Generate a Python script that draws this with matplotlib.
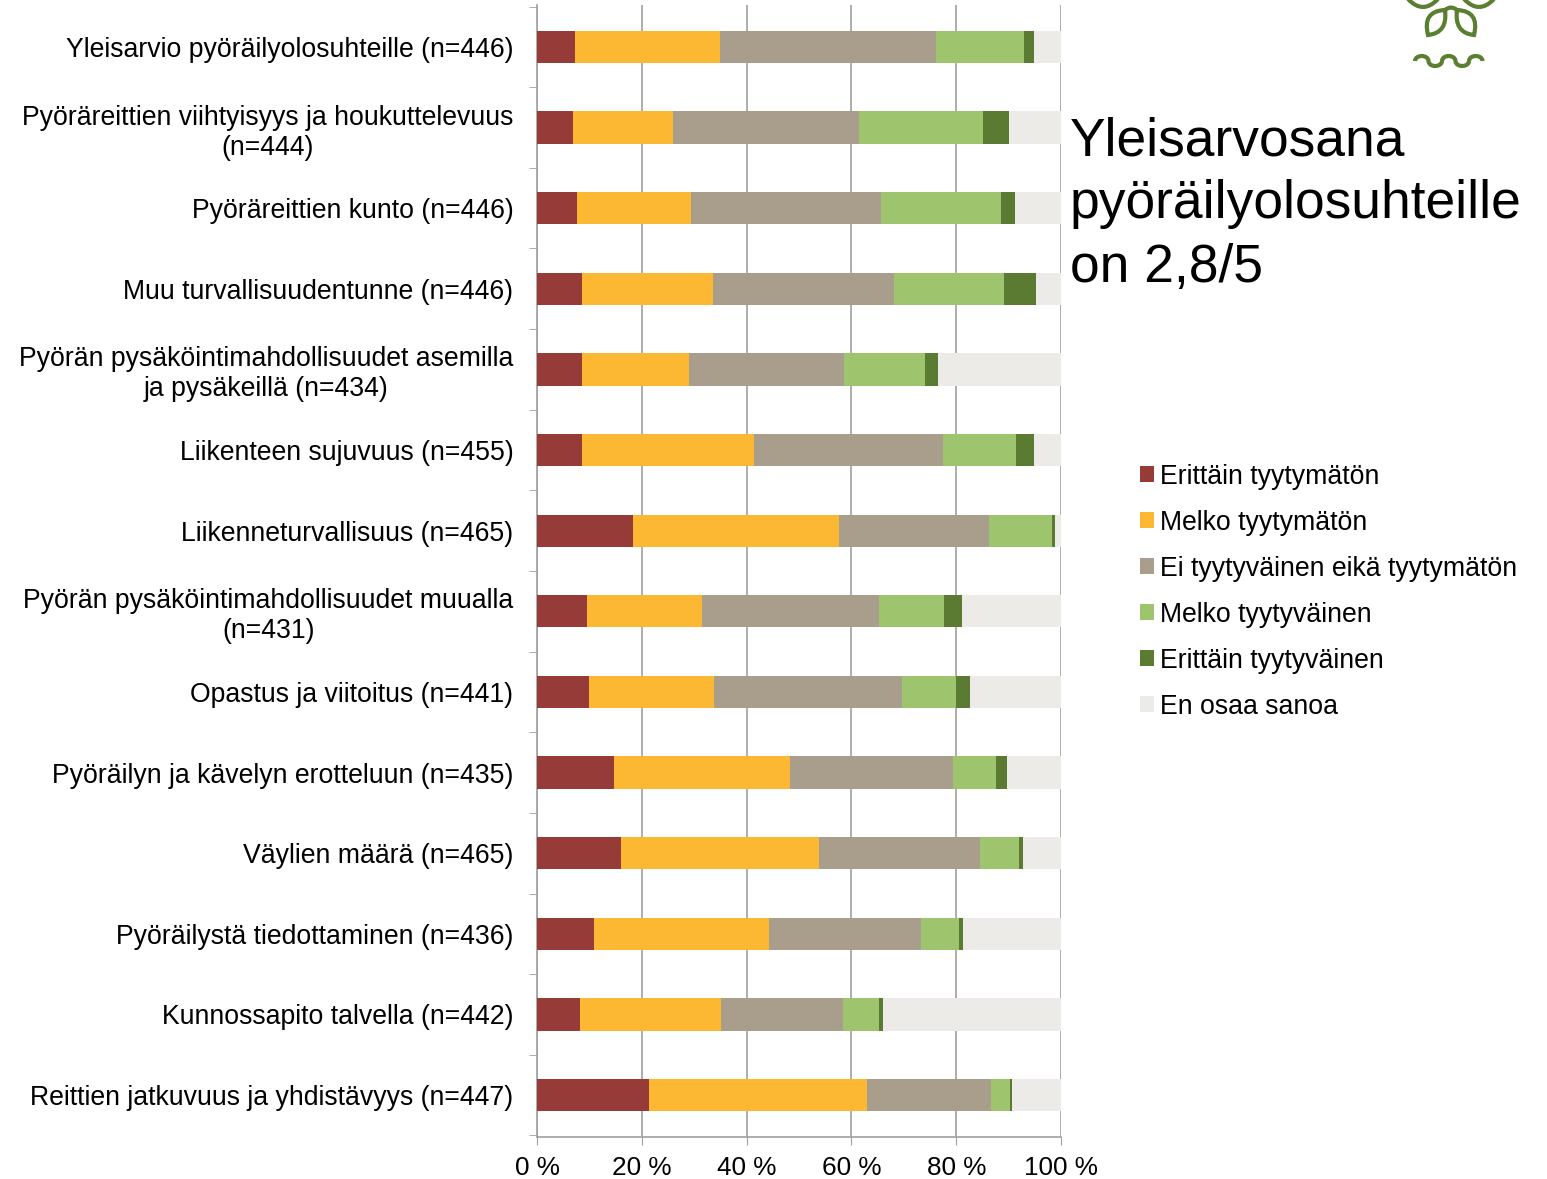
import numpy as np
import matplotlib
matplotlib.use("Agg")
from matplotlib import pyplot as plt
from matplotlib.patches import Arc, PathPatch
from matplotlib.path import Path

plt.rcParams['font.family'] = ['Liberation Sans', 'DejaVu Sans']

categories = [
    'Yleisarvio pyöräilyolosuhteille (n=446)',
    'Pyöräreittien viihtyisyys ja houkuttelevuus\n(n=444)',
    'Pyöräreittien kunto (n=446)',
    'Muu turvallisuudentunne (n=446)',
    'Pyörän pysäköintimahdollisuudet asemilla\nja pysäkeillä (n=434)',
    'Liikenteen sujuvuus (n=455)',
    'Liikenneturvallisuus (n=465)',
    'Pyörän pysäköintimahdollisuudet muualla\n(n=431)',
    'Opastus ja viitoitus (n=441)',
    'Pyöräilyn ja kävelyn erotteluun (n=435)',
    'Väylien määrä (n=465)',
    'Pyöräilystä tiedottaminen (n=436)',
    'Kunnossapito talvella (n=442)',
    'Reittien jatkuvuus ja yhdistävyys (n=447)',
]

series_names = ['Erittäin tyytymätön', 'Melko tyytymätön', 'Ei tyytyväinen eikä tyytymätön',
                'Melko tyytyväinen', 'Erittäin tyytyväinen', 'En osaa sanoa']
colors = ['#963B37', '#FCB833', '#A99D8C', '#9EC46E', '#5A7B31', '#ECEBE7']

erittain_tyytymaton = [7.3, 6.9, 7.6, 8.6, 8.6, 8.5, 18.4, 9.5, 9.9, 14.7, 16.1, 10.9, 8.3, 21.4]
melko_tyytymaton = [27.7, 19.0, 21.7, 25.0, 20.5, 33.0, 39.2, 21.9, 23.8, 33.6, 37.7, 33.4, 26.8, 41.6]
ei_kumpikaan = [41.1, 35.6, 36.4, 34.5, 29.5, 35.9, 28.7, 33.8, 35.9, 31.0, 30.8, 28.9, 23.3, 23.6]
melko_tyytyvainen = [16.8, 23.6, 22.9, 21.0, 15.4, 14.1, 11.9, 12.4, 10.3, 8.2, 7.4, 7.4, 6.8, 3.7]
erittain_tyytyvainen = [2.0, 5.0, 2.7, 6.2, 2.5, 3.4, 0.7, 3.6, 2.7, 2.2, 0.8, 0.7, 0.9, 0.4]
en_osaa_sanoa = [5.1, 9.9, 8.7, 4.7, 23.5, 5.1, 1.1, 18.8, 17.4, 10.3, 7.3, 18.7, 33.9, 9.3]

series = [erittain_tyytymaton, melko_tyytymaton, ei_kumpikaan,
          melko_tyytyvainen, erittain_tyytyvainen, en_osaa_sanoa]

fig = plt.figure(figsize=(15.47, 11.79), dpi=100)
ax = fig.add_axes([537 / 1547, 1 - 1137 / 1179, 524 / 1547, 1132 / 1179])

y = np.arange(len(categories))
left = np.zeros(len(categories))
for name, vals, c in zip(series_names, series, colors):
    vals = np.array(vals)
    ax.barh(y, vals, left=left, height=0.4, color=c, label=name, edgecolor='none', zorder=3)
    left += vals

ax.set_xlim(0, 100)
ax.set_ylim(len(categories) - 0.48, -0.52)
ax.set_xticks([0, 20, 40, 60, 80, 100])
ax.set_xticklabels(['0 %', '20 %', '40 %', '60 %', '80 %', '100 %'], fontsize=18.8)
ax.set_yticks(y)
ax.set_yticklabels(categories, fontsize=19.2)
for t in ax.get_yticklabels():
    t.set_multialignment('center')
    t.set_linespacing(1.2)
ax.set_yticks(np.arange(len(categories) + 1) - 0.5, minor=True)
ax.tick_params(axis='y', which='major', length=0, pad=17)
ax.tick_params(axis='y', which='minor', length=6, color='#A0A0A0', direction='out')
ax.tick_params(axis='x', length=6, color='#A0A0A0', pad=8)
ax.grid(axis='x', color='#A0A0A0', linewidth=1.2, zorder=0)
for s in ['top', 'right']:
    ax.spines[s].set_visible(False)
for s in ['left', 'bottom']:
    ax.spines[s].set_color('#A0A0A0')
    ax.spines[s].set_linewidth(1.2)

fig.text(1070 / 1547, 1 - 116 / 1179, 'Yleisarvosana\npyöräilyolosuhteille\non 2,8/5',
         fontsize=38.4, va='top', ha='left', linespacing=1.34)

handles, labels = ax.get_legend_handles_labels()
fig.legend(handles, labels, loc='upper left', bbox_to_anchor=(1129 / 1547, 1 - 453 / 1179),
           frameon=False, fontsize=19.2, handlelength=0.52, handleheight=0.52,
           handletextpad=0.25, labelspacing=0.75, borderaxespad=0)

# logo fragment in the top right corner
lx = fig.add_axes([1400 / 1547, 1 - 75 / 1179, 100 / 1547, 75 / 1179])
lx.set_xlim(0, 100)
lx.set_ylim(0, 75)
lx.axis('off')
green = '#5A7F30'
wave = [(21.75, 0, 180), (35.25, 180, 360), (48.75, 0, 180), (62.25, 180, 360), (75.75, 0, 180)]
for cx, th1, th2 in wave:
    lx.add_patch(Arc((cx, 14), 13.5, 10, theta1=th1, theta2=th2, color=green, lw=3))
C3 = Path.CURVE3
leaves = [
    [(45, 65), (22, 64), (28, 40), (48, 42), (45, 65)],
    [(57, 65), (80, 64), (74, 40), (54, 42), (57, 65)],
]
for pts in leaves:
    lx.add_patch(PathPatch(Path(pts, [Path.MOVETO, C3, C3, C3, C3]),
                           fill=False, edgecolor=green, lw=3))
tops = [
    [(45, 65), (51, 70), (57, 65)],
    [(8, 76), (23, 60), (38, 76)],
    [(64, 76), (79, 60), (94, 76)],
]
for pts in tops:
    lx.add_patch(PathPatch(Path(pts, [Path.MOVETO, C3, C3]),
                           fill=False, edgecolor=green, lw=3))

fig.savefig('out.png', dpi=100)
